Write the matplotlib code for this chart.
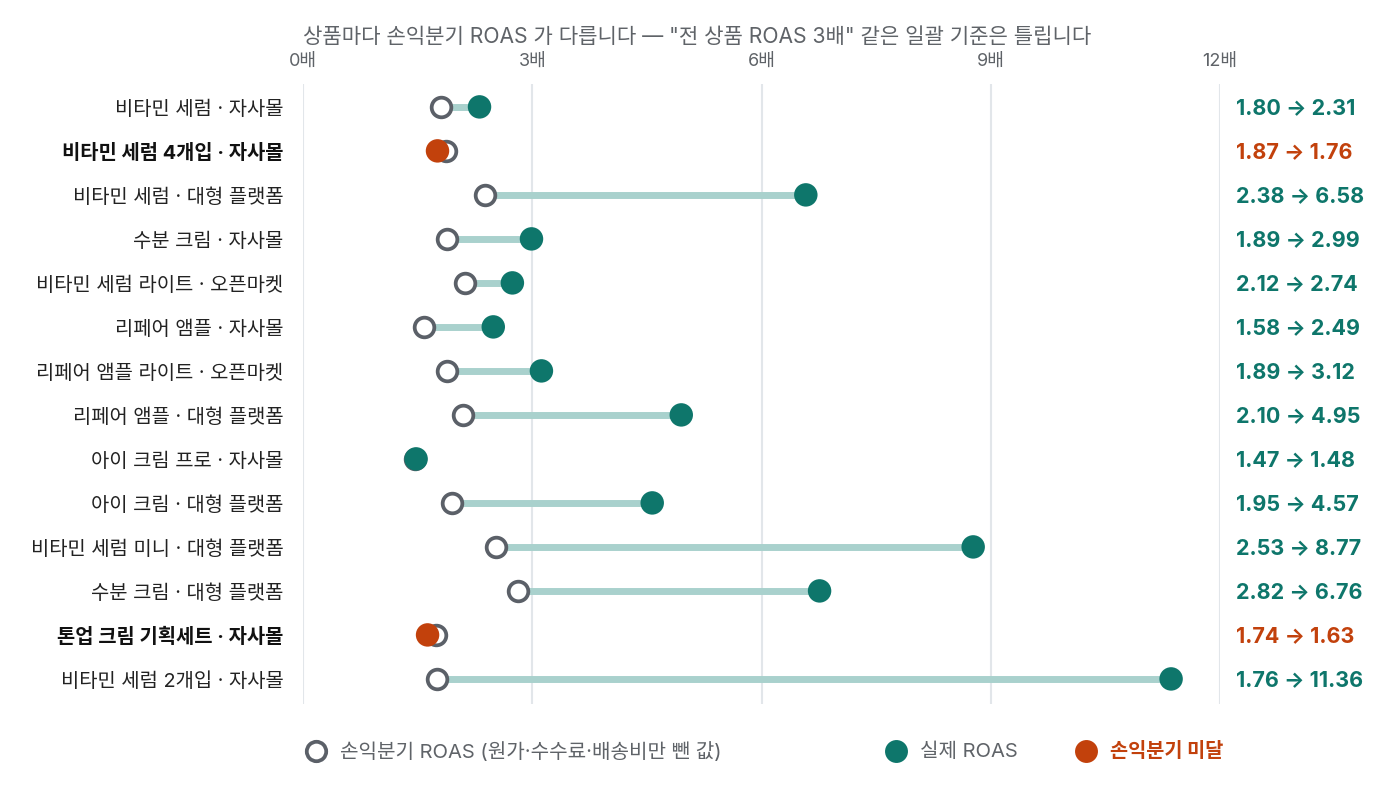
import matplotlib
matplotlib.use("Agg")
import matplotlib.pyplot as plt
from matplotlib.lines import Line2D

plt.rcParams['font.family'] = ['Inter', 'Noto Sans CJK KR', 'DejaVu Sans']

products = [
    "비타민 세럼 · 자사몰",
    "비타민 세럼 4개입 · 자사몰",
    "비타민 세럼 · 대형 플랫폼",
    "수분 크림 · 자사몰",
    "비타민 세럼 라이트 · 오픈마켓",
    "리페어 앰플 · 자사몰",
    "리페어 앰플 라이트 · 오픈마켓",
    "리페어 앰플 · 대형 플랫폼",
    "아이 크림 프로 · 자사몰",
    "아이 크림 · 대형 플랫폼",
    "비타민 세럼 미니 · 대형 플랫폼",
    "수분 크림 · 대형 플랫폼",
    "톤업 크림 기획세트 · 자사몰",
    "비타민 세럼 2개입 · 자사몰",
]
breakeven = [1.80, 1.87, 2.38, 1.89, 2.12, 1.58, 1.89, 2.10, 1.47, 1.95, 2.53, 2.82, 1.74, 1.76]
actual = [2.31, 1.76, 6.58, 2.99, 2.74, 2.49, 3.12, 4.95, 1.48, 4.57, 8.77, 6.76, 1.63, 11.36]
xticks = [0, 3, 6, 9, 12]
xticklabels = ["0배", "3배", "6배", "9배", "12배"]

TEAL = "#0e766b"
RED = "#c2410c"
RING = "#5b6068"
LINE = "#a9d1cd"
GRID = "#e2e6ea"
TXT = "#5f6368"

fig = plt.figure(figsize=(14, 8.04), dpi=100)
ax = fig.add_axes([303/1400, 1-705/804, (1220-303)/1400, (705-85)/804])
ax.set_xlim(0, 12)
ax.set_ylim(len(products) - 1 + 0.57, -0.52)

for gx in xticks:
    ax.axvline(gx, color=GRID, lw=1.5, zorder=0)

for i, (b, a) in enumerate(zip(breakeven, actual)):
    below = a < b
    if not below:
        ax.plot([b, a], [i, i], color=LINE, lw=5, solid_capstyle='butt', zorder=1)
    ax.scatter([b], [i], s=200, facecolor="white", edgecolor=RING, linewidth=2.7, zorder=2)
    ax.scatter([a], [i], s=285, facecolor=RED if below else TEAL, edgecolor="none", zorder=3)
    ax.text(1.0 + 16/917, i, f"{b:.2f} → {a:.2f}", transform=ax.get_yaxis_transform(),
            ha="left", va="center", fontsize=15.5, fontweight="bold",
            color=RED if below else TEAL)

ax.set_yticks(range(len(products)))
ax.set_yticklabels(products, fontsize=14.3, color="#222222")
for lbl, b, a in zip(ax.get_yticklabels(), breakeven, actual):
    if a < b:
        lbl.set_fontweight("bold")
        lbl.set_color("#111111")
ax.tick_params(axis="y", length=0, pad=14)

ax.xaxis.tick_top()
ax.set_xticks(xticks)
ax.set_xticklabels(xticklabels, fontsize=13, color=TXT)
ax.tick_params(axis="x", length=0, pad=11)
for s in ax.spines.values():
    s.set_visible(False)

fig.text(303/1400, 1-37/804, '상품마다 손익분기 ROAS 가 다릅니다 — "전 상품 ROAS 3배" 같은 일괄 기준은 틀립니다',
         ha="left", va="center", fontsize=15.2, color=TXT)

# legend
ly = 1 - 752/804
fig.add_artist(Line2D([316/1400], [ly], marker="o", markersize=14, markerfacecolor="white",
                      markeredgecolor=RING, markeredgewidth=2.7, linestyle="none",
                      transform=fig.transFigure))
fig.text(340/1400, ly, "손익분기 ROAS (원가·수수료·배송비만 뺀 값)", ha="left", va="center",
         fontsize=14.5, color=TXT)
fig.add_artist(Line2D([896/1400], [ly], marker="o", markersize=16.5, markerfacecolor=TEAL,
                      markeredgecolor="none", linestyle="none", transform=fig.transFigure))
fig.text(920/1400, ly, "실제 ROAS", ha="left", va="center", fontsize=14.5, color=TXT)
fig.add_artist(Line2D([1086/1400], [ly], marker="o", markersize=16.5, markerfacecolor=RED,
                      markeredgecolor="none", linestyle="none", transform=fig.transFigure))
fig.text(1110/1400, ly, "손익분기 미달", ha="left", va="center", fontsize=14.2,
         color=RED, fontweight="bold")

fig.savefig("out.png", dpi=100, facecolor="white")
